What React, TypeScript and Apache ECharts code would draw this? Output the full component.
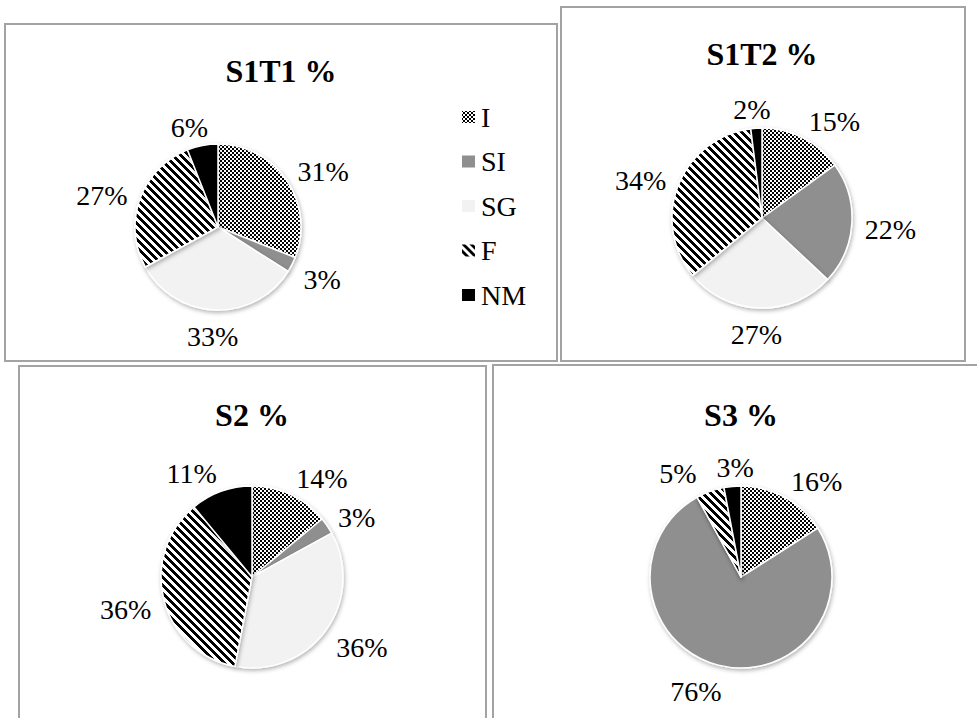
import React, { useEffect, useRef } from 'react';
import * as echarts from 'echarts';

const categories = ['I', 'SI', 'SG', 'F', 'NM'];
const chartTitles = ['S1T1 %', 'S1T2 %', 'S2 %', 'S3 %'];
const s1t1Values = [31, 3, 33, 27, 6];
const s1t2Values = [15, 22, 27, 34, 2];
const s2Values = [14, 3, 36, 36, 11];
const s3Values = [16, 76, 0, 5, 3];
const allValues = [s1t1Values, s1t2Values, s2Values, s3Values];

const FONT = '"Liberation Serif", "Times New Roman", serif';
const LABEL_SIZE = 28;
const LABEL_GAP = 13;
const LABEL_MIN_SPACING = 20;
const LABEL_BASELINE_SHIFT = 4;

function makeChecker() {
  const c = document.createElement('canvas');
  c.width = 4;
  c.height = 4;
  const g = c.getContext('2d')!;
  g.fillStyle = '#ffffff';
  g.fillRect(0, 0, 4, 4);
  g.fillStyle = '#000000';
  g.fillRect(0, 0, 2, 2);
  g.fillRect(2, 2, 2, 2);
  return c;
}

function makeStripes() {
  const s = 8;
  const c = document.createElement('canvas');
  c.width = s;
  c.height = s;
  const g = c.getContext('2d')!;
  const img = g.createImageData(s, s);
  for (let y = 0; y < s; y++) {
    for (let x = 0; x < s; x++) {
      const k = (((x - y) % s) + s) % s;
      const v = k < 4 ? 0 : 255;
      const o = (y * s + x) * 4;
      img.data[o] = v;
      img.data[o + 1] = v;
      img.data[o + 2] = v;
      img.data[o + 3] = 255;
    }
  }
  g.putImageData(img, 0, 0);
  return c;
}

export default function App() {
  const ref = useRef<HTMLDivElement>(null);
  useEffect(() => {
    if (!ref.current) return;
    const chart = echarts.init(ref.current, null, { renderer: 'svg' });
    const checker = { image: makeChecker(), repeat: 'repeat', imageWidth: 4, imageHeight: 4 };
    const stripes = { image: makeStripes(), repeat: 'repeat', imageWidth: 8, imageHeight: 8 };
    const colors: any[] = [checker, '#8f8f8f', '#f2f2f2', stripes, '#000000'];

    const centers = [
      [218, 227],
      [762, 218],
      [252, 577],
      [741, 577],
    ];
    const radii = [83, 90, 91, 91];
    const titlePos = [
      [281, 71],
      [762, 54],
      [252, 415],
      [741, 415],
    ];
    const panels = [
      { x: 5, y: 24, width: 552, height: 337 },
      { x: 561, y: 7, width: 404, height: 354 },
      { x: 19, y: 366, width: 467, height: 370 },
      { x: 493, y: 365, width: 500, height: 370 },
    ];

    // label placement: outside end of each slice, box pushed off the rim
    const measure = document.createElement('canvas').getContext('2d')!;
    measure.font = `${LABEL_SIZE}px ${FONT}`;
    const labelBoxes = allValues.map((vals, si) => {
      const total = vals.reduce((a, b) => a + b, 0);
      const [cx, cy] = centers[si];
      let cum = 0;
      const boxes = vals.map((v) => {
        const mid = ((cum + v / 2) / total) * Math.PI * 2;
        cum += v;
        const w = measure.measureText(v + '%').width;
        const h = LABEL_SIZE * 0.7;
        const dx = Math.sin(mid);
        const dy = -Math.cos(mid);
        const R = radii[si] + LABEL_GAP;
        const hx = Math.max(-1, Math.min(1, dx * 3));
        return {
          show: v > 0,
          x: cx + R * dx + (w / 2) * hx,
          y: cy + R * dy + (h / 2) * dy + LABEL_BASELINE_SHIFT,
          w,
          h,
        };
      });
      const vis = boxes.filter((b) => b.show);
      for (let i = 0; i < vis.length; i++) {
        const a = vis[i];
        const b = vis[(i + 1) % vis.length];
        if (a === b) continue;
        const ox = (a.w + b.w) / 2 - Math.abs(a.x - b.x);
        const oy = (a.h + b.h) / 2 - Math.abs(a.y - b.y);
        if (ox > -LABEL_MIN_SPACING && oy > 0) {
          const push = (ox + LABEL_MIN_SPACING) / 2;
          const sgn = a.x < b.x ? 1 : -1;
          a.x -= sgn * push;
          b.x += sgn * push;
        }
      }
      return boxes;
    });

    const series = allValues.map((vals, si) => ({
      type: 'pie',
      name: chartTitles[si],
      center: centers[si],
      radius: radii[si],
      startAngle: 90,
      clockwise: true,
      avoidLabelOverlap: false,
      data: categories.map((n, i) => ({
        name: n,
        value: vals[i],
        itemStyle: { color: colors[i] },
        label: vals[i] === 0 ? { show: false } : undefined,
      })),
      label: {
        show: true,
        position: 'outside',
        formatter: '{c}%',
        color: '#000',
        fontFamily: FONT,
        fontSize: LABEL_SIZE,
      },
      labelLine: { show: false, length: 10, length2: 0 },
      labelLayout: (params: any) => {
        const b = labelBoxes[si][params.dataIndex];
        return { x: b.x, y: b.y, align: 'center', verticalAlign: 'middle' };
      },
      itemStyle: {
        borderColor: '#ffffff',
        borderWidth: 1.5,
        shadowBlur: 4,
        shadowColor: 'rgba(0,0,0,0.3)',
        shadowOffsetX: 1,
        shadowOffsetY: 2,
      },
      emphasis: { disabled: true },
      silent: true,
    }));

    chart.setOption({
      animation: false,
      backgroundColor: '#ffffff',
      legend: {
        orient: 'vertical',
        left: 455,
        top: 98,
        itemWidth: 15,
        itemHeight: 14,
        itemGap: 16.5,
        icon: 'rect',
        selectedMode: false,
        data: categories,
        textStyle: { fontFamily: FONT, fontSize: 28, color: '#000' },
      },
      graphic: [
        ...panels.map((p) => ({
          type: 'rect',
          shape: p,
          z: -1,
          style: { fill: 'none', stroke: '#a3a3a3', lineWidth: 2 },
        })),
        ...chartTitles.map((t, i) => ({
          type: 'text',
          x: titlePos[i][0],
          y: titlePos[i][1],
          style: {
            text: t,
            fontFamily: FONT,
            fontSize: 32,
            fontWeight: 'bold',
            fill: '#000',
            textAlign: 'center',
            textVerticalAlign: 'middle',
          },
        })),
      ],
      series,
    });
    return () => chart.dispose();
  }, []);
  return (
    <div
      ref={ref}
      style={{ position: 'absolute', left: 0, top: 0, width: 977, height: 718, background: '#fff' }}
    />
  );
}
